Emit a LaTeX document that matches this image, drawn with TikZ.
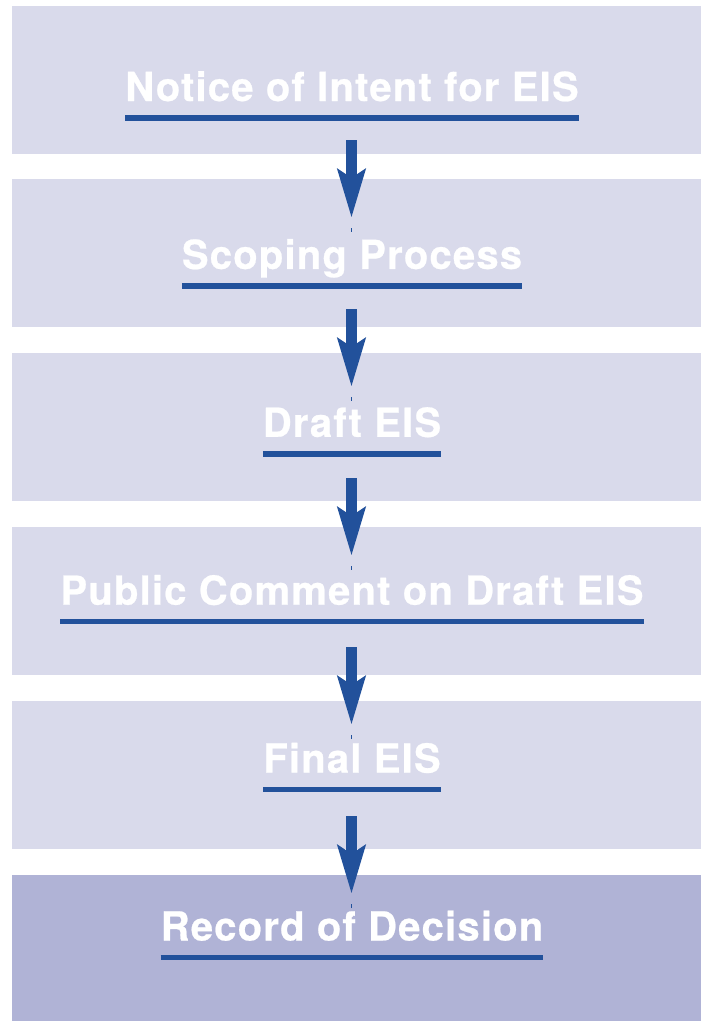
\documentclass[tikz,border=0pt]{standalone}
\usepackage{fontspec}
\newfontfamily\stagefont{TeX Gyre Heros}[BoldFeatures={FakeBold=0.6},LetterSpace=3]
\usetikzlibrary{arrows.meta}
\definecolor{stagebg}{RGB}{217,218,235}
\definecolor{finalbg}{RGB}{176,179,214}
\definecolor{flowblue}{RGB}{34,81,155}
\begin{document}
\begin{tikzpicture}[x=1pt,y=-1pt,
  stagebox/.style={fill=stagebg, draw=none, minimum width=689pt, minimum height=148pt,
    inner sep=0pt, outer sep=0pt, anchor=north west},
  stagelabel/.style={text=white, font={\stagefont\bfseries\fontsize{40}{48}\selectfont},
    inner sep=0pt, outer sep=0pt, anchor=base},
  uline/.style={draw=flowblue, line width=5.5pt},
  flow/.style={draw=flowblue, line width=11pt, -{Stealth[length=48pt,width=27pt,inset=8pt]}},
  tickmark/.style={draw=flowblue, line width=0.9pt}]
\useasboundingbox (0,0) rectangle (705,1021);

% stage panels
\node[stagebox] (b1) at (12,6) {};
\node[stagebox] (b2) at (12,179) {};
\node[stagebox] (b3) at (12,353) {};
\node[stagebox] (b4) at (12,527) {};
\node[stagebox] (b5) at (12,701) {};
\node[stagebox, fill=finalbg, minimum height=146pt] (b6) at (12,875) {};

% stage titles with their underlines
\foreach \i/\u/\txt in {1/118/Notice of Intent for EIS,
                        2/285.9/Scoping Process,
                        3/453.8/Draft EIS,
                        4/621.7/Public Comment on Draft EIS,
                        5/789.6/Final EIS,
                        6/957.5/Record of Decision}{
  \node[stagelabel] (t\i) at (352,\u-17) {\txt};
  \coordinate (u\i) at (352,\u);
  \draw[uline] (t\i.west |- u\i) -- (t\i.east |- u\i);
}

% flow arrows between stages
\foreach \i in {1,...,5}{
  \coordinate (s\i) at (351.5,{140+169*(\i-1)});
  \coordinate (e\i) at (351.5,{218+169*(\i-1)});
  \coordinate (ka\i) at (351.5,{228+169*(\i-1)});
  \coordinate (kb\i) at (351.5,{232+169*(\i-1)});
  \draw[flow] (s\i) -- (e\i);
  \draw[tickmark] (ka\i) -- (kb\i);
}
\end{tikzpicture}
\end{document}
